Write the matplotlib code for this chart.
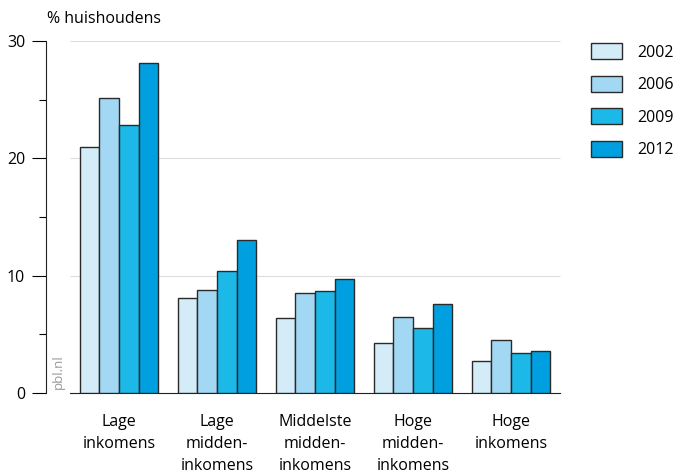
import numpy as np
from matplotlib import pyplot as plt
from matplotlib.patches import Patch

categories = ['Lage\ninkomens', 'Lage\nmidden-\ninkomens', 'Middelste\nmidden-\ninkomens',
              'Hoge\nmidden-\ninkomens', 'Hoge\ninkomens']
years = ['2002', '2006', '2009', '2012']
values_2002 = [21.0, 8.1, 6.4, 4.3, 2.7]
values_2006 = [25.1, 8.8, 8.5, 6.5, 4.5]
values_2009 = [22.8, 10.4, 8.7, 5.5, 3.4]
values_2012 = [28.1, 13.0, 9.7, 7.6, 3.6]
series = [values_2002, values_2006, values_2009, values_2012]

colors = ['#d3ecf8', '#a2d8f3', '#1bb8e8', '#009fdf']
edge = '#2a2a2a'

plt.rcParams['font.family'] = ['Open Sans', 'DejaVu Sans']

fig = plt.figure(figsize=(6.76, 4.72), dpi=100)
ax = fig.add_axes([46 / 676, 1 - 393 / 472, (562 - 46) / 676, (393 - 41) / 472])

x = np.arange(len(categories))
width = 0.2
for i, vals in enumerate(series):
    ax.bar(x + (i - 1.5) * width, vals, width, color=colors[i], edgecolor=edge,
           linewidth=1.0, zorder=3)

# gridlines, starting a bit right of the axis
ax.hlines([10, 20, 30], -0.5, 4.5, color='#dddddd', linewidth=0.8, zorder=1)

ax.set_xlim(-0.745, 4.52)
ax.set_ylim(0, 30)

ax.spines['top'].set_visible(False)
ax.spines['right'].set_visible(False)
ax.spines['left'].set_bounds(0, 30)
ax.spines['bottom'].set_bounds(-0.5, 4.5)
ax.spines['left'].set_color('#222222')
ax.spines['bottom'].set_color('#222222')

ax.set_yticks([0, 10, 20, 30])
ax.set_yticks([5, 15, 25], minor=True)
ax.tick_params(axis='y', which='major', length=10, width=0.8, labelsize=11.5, pad=5)
ax.tick_params(axis='y', which='minor', length=5, width=0.8)
ax.set_xticks(x)
ax.set_xticklabels(categories, fontsize=11.5, linespacing=1.5)
ax.tick_params(axis='x', length=0, pad=15)
for lbl in ax.get_xticklabels():
    lbl.set_verticalalignment('top')

fig.text(47 / 676, 1 - 19 / 472, '% huishoudens', fontsize=11.5, va='center', ha='left')
ax.text(-0.62, 0.3, 'pbl.nl', rotation=90, color='#999999', fontsize=9.5,
        ha='center', va='bottom')

handles = [Patch(facecolor=c, edgecolor=edge, linewidth=1.0) for c in colors]
fig.legend(handles, years, loc='upper left', bbox_to_anchor=(577 / 676, 1 - 29 / 472),
           frameon=False, fontsize=11.5, handlelength=1.9, handleheight=1.15,
           labelspacing=0.95, handletextpad=1.0)

plt.savefig('out.png', dpi=100)
